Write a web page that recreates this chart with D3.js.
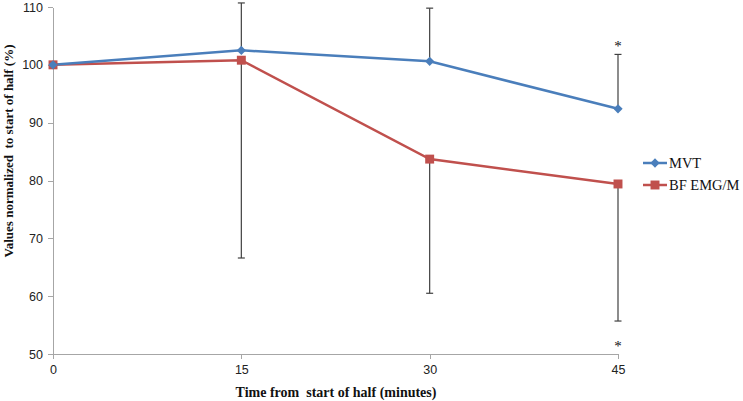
<!DOCTYPE html>
<html>
  <head>
    <meta charset="utf-8">
    <title>MVT vs BF EMG/M</title>
    <style media="screen">
      body { margin: 0; background: #fff; }
      .axis path, .axis line { stroke: #a6a6a6; shape-rendering: crispEdges; }
      .axis text { font-family: "Liberation Sans", sans-serif; font-size: 12.5px; fill: #222; }
      .title { font-family: "Liberation Serif", serif; font-weight: bold; fill: #111; white-space: pre; }
      .legend text { font-family: "Liberation Serif", serif; font-size: 14.5px; fill: #111; }
      .err { stroke: #404040; stroke-width: 1.2; }
      .star { font-family: "Liberation Serif", serif; font-size: 15px; fill: #111; }
    </style>
  </head>
  <body>
    <div class="container"></div>
    <script src="https://cdn.jsdelivr.net/npm/d3@7/dist/d3.min.js" charset="utf-8"></script>
    <script type="text/javascript">
    var width = 743;
    var height = 401;

    // data
    var times = [0, 15, 30, 45];
    var mvt = [100, 102.5, 100.6, 92.4];
    var mvtUpper = [100, 110.7, 109.8, 101.8];
    var bf = [100, 100.8, 83.7, 79.4];
    var bfLower = [100, 66.6, 60.5, 55.7];
    var yTicks = [50, 60, 70, 80, 90, 100, 110];
    var xTicks = [0, 15, 30, 45];
    var stars = [{ t: 45, v: 104.2 }, { t: 45, v: 52.3 }];

    var svg = d3.select(".container")
        .append("svg")
        .attr("width", width)
        .attr("height", height);

    var x = d3.scaleLinear().domain([0, 45]).range([53, 618]);
    var y = d3.scaleLinear().domain([50, 110]).range([354, 7]);

    svg.append("g")
        .attr("class", "axis")
        .attr("transform", "translate(53,0)")
        .call(d3.axisLeft(y).tickValues(yTicks).tickSize(5).tickSizeOuter(0).tickPadding(5));

    svg.append("g")
        .attr("class", "axis")
        .attr("transform", "translate(0,354)")
        .call(d3.axisBottom(x).tickValues(xTicks).tickSize(5).tickSizeOuter(0).tickPadding(6));

    // error bars
    var errs = [];
    times.forEach(function(t, i) {
      if (mvtUpper[i] !== mvt[i]) errs.push({ t: t, a: mvt[i], b: mvtUpper[i] });
      if (bfLower[i] !== bf[i]) errs.push({ t: t, a: bf[i], b: bfLower[i] });
    });

    svg.selectAll(".errV")
        .data(errs)
        .enter()
        .append("line")
        .attr("class", "err")
        .attr("x1", function(d) { return x(d.t); })
        .attr("x2", function(d) { return x(d.t); })
        .attr("y1", function(d) { return y(d.a); })
        .attr("y2", function(d) { return y(d.b); });

    svg.selectAll(".errCap")
        .data(errs)
        .enter()
        .append("line")
        .attr("class", "err")
        .attr("x1", function(d) { return x(d.t) - 3.5; })
        .attr("x2", function(d) { return x(d.t) + 3.5; })
        .attr("y1", function(d) { return y(d.b); })
        .attr("y2", function(d) { return y(d.b); });

    var line = d3.line()
        .x(function(d, i) { return x(times[i]); })
        .y(function(d) { return y(d); });

    svg.append("path")
        .datum(bf)
        .attr("fill", "none")
        .attr("stroke", "#c0504d")
        .attr("stroke-width", 2.5)
        .attr("d", line);

    svg.append("path")
        .datum(mvt)
        .attr("fill", "none")
        .attr("stroke", "#4a7ebb")
        .attr("stroke-width", 2.5)
        .attr("d", line);

    var diamond = d3.symbol().type(d3.symbolDiamond2).size(55);
    var square = d3.symbol().type(d3.symbolSquare).size(80);

    svg.selectAll(".bfPt")
        .data(bf)
        .enter()
        .append("path")
        .attr("fill", "#c0504d")
        .attr("transform", function(d, i) { return "translate(" + x(times[i]) + "," + y(d) + ")"; })
        .attr("d", square);

    svg.selectAll(".mvtPt")
        .data(mvt)
        .enter()
        .append("path")
        .attr("fill", "#4a7ebb")
        .attr("transform", function(d, i) { return "translate(" + x(times[i]) + "," + y(d) + ")"; })
        .attr("d", diamond);

    svg.selectAll(".star")
        .data(stars)
        .enter()
        .append("text")
        .attr("class", "star")
        .attr("x", function(d) { return x(d.t); })
        .attr("y", function(d) { return y(d.v); })
        .attr("text-anchor", "middle")
        .attr("dy", "0.7em")
        .text("*");

    // axis titles
    svg.append("text")
        .attr("class", "title")
        .attr("x", 336)
        .attr("y", 397)
        .attr("text-anchor", "middle")
        .style("font-size", "14px")
        .text("Time from  start of half (minutes)");

    svg.append("text")
        .attr("class", "title")
        .attr("transform", "translate(13,151) rotate(-90)")
        .attr("text-anchor", "middle")
        .style("font-size", "13px")
        .text("Values normalized  to start of half (%)");

    // legend
    var legend = svg.append("g").attr("class", "legend");
    var items = [
      { name: "MVT", color: "#4a7ebb", sym: diamond, y: 163 },
      { name: "BF EMG/M", color: "#c0504d", sym: square, y: 185 }
    ];
    items.forEach(function(it) {
      legend.append("line")
          .attr("x1", 643).attr("x2", 667)
          .attr("y1", it.y).attr("y2", it.y)
          .attr("stroke", it.color).attr("stroke-width", 2.5);
      legend.append("path")
          .attr("fill", it.color)
          .attr("transform", "translate(655," + it.y + ")")
          .attr("d", it.sym);
      legend.append("text")
          .attr("x", 669).attr("y", it.y).attr("dy", "0.35em")
          .text(it.name);
    });
    </script>
  </body>
</html>
